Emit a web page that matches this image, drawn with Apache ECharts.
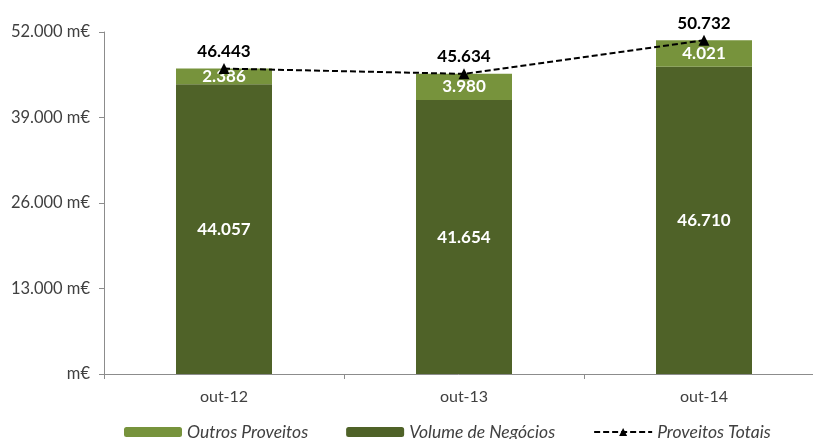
<!DOCTYPE html>
<html>
<head>
<meta charset="utf-8">
<script src="https://cdn.jsdelivr.net/npm/echarts@6/dist/echarts.min.js"></script>
<style>
  html, body { margin: 0; padding: 0; background: #ffffff; }
  #chart { width: 813px; height: 439px; }
</style>
</head>
<body>
<div id="chart"></div>
<script>
// Periods (October of each year)
const categories = ['out-12', 'out-13', 'out-14'];
// Turnover (thousand €)
const volumeNegocios = [44057, 41654, 46710];
// Other income (thousand €)
const outrosProveitos = [2386, 3980, 4021];
// Total income (thousand €)
const proveitosTotais = [46443, 45634, 50732];
// Y axis tick labels, from 0 upward in steps of 13.000
const yTickLabels = ['m€', '13.000 m€', '26.000 m€', '39.000 m€', '52.000 m€'];
const yStep = 13000;

const FONT = 'Lato, "Open Sans", sans-serif';
const fmt = v => String(v).replace(/\B(?=(\d{3})+(?!\d))/g, '.');

const chart = echarts.init(document.getElementById('chart'), null, { renderer: 'canvas' });

chart.setOption({
  animation: false,
  backgroundColor: '#ffffff',
  textStyle: { fontFamily: FONT },
  // plot area runs past the right edge of the canvas
  grid: { left: 104, top: 32, bottom: 65, width: 720, containLabel: false, outerBoundsMode: 'none' },
  legend: {
    left: 119,
    top: 418,
    itemWidth: 58,
    itemHeight: 10,
    itemGap: 38,
    textStyle: { fontFamily: FONT, fontSize: 17.5, fontStyle: 'italic', color: '#404040' },
    data: ['Outros Proveitos', 'Volume de Negócios', 'Proveitos Totais']
  },
  xAxis: {
    type: 'category',
    data: categories,
    axisLine: { lineStyle: { color: '#8c8c8c', width: 1 } },
    axisTick: { show: true, alignWithLabel: false, length: 5, lineStyle: { color: '#8c8c8c' } },
    axisLabel: { fontFamily: FONT, fontSize: 16, color: '#404040', margin: 15 }
  },
  yAxis: {
    type: 'value',
    min: 0,
    max: 52000,
    interval: yStep,
    splitLine: { show: false },
    axisLine: { show: true, lineStyle: { color: '#8c8c8c', width: 1 } },
    axisTick: { show: true, length: 5, lineStyle: { color: '#8c8c8c' } },
    axisLabel: {
      fontFamily: FONT, fontSize: 16.5, color: '#404040', margin: 14,
      formatter: v => yTickLabels[Math.round(v / yStep)]
    }
  },
  series: [
    {
      name: 'Volume de Negócios',
      type: 'bar',
      stack: 'total',
      barWidth: '40%',
      data: volumeNegocios,
      itemStyle: { color: '#4f6228' },
      label: {
        show: true, position: 'inside',
        formatter: p => fmt(p.value),
        color: '#ffffff', fontFamily: FONT, fontSize: 17, fontWeight: 'bold'
      }
    },
    {
      name: 'Outros Proveitos',
      type: 'bar',
      stack: 'total',
      barWidth: '40%',
      data: outrosProveitos,
      itemStyle: { color: '#77933c' },
      label: {
        show: true, position: 'inside',
        formatter: p => fmt(p.value),
        color: '#ffffff', fontFamily: FONT, fontSize: 17, fontWeight: 'bold'
      }
    },
    {
      name: 'Proveitos Totais',
      type: 'line',
      data: proveitosTotais,
      symbol: 'triangle',
      symbolSize: 11,
      z: 5,
      itemStyle: { color: '#000000' },
      lineStyle: { color: '#000000', width: 2, type: [6, 3] },
      label: {
        show: true, position: 'top', distance: 3,
        formatter: p => fmt(p.value),
        color: '#000000', fontFamily: FONT, fontSize: 17, fontWeight: 'bold'
      }
    }
  ]
});
</script>
</body>
</html>
